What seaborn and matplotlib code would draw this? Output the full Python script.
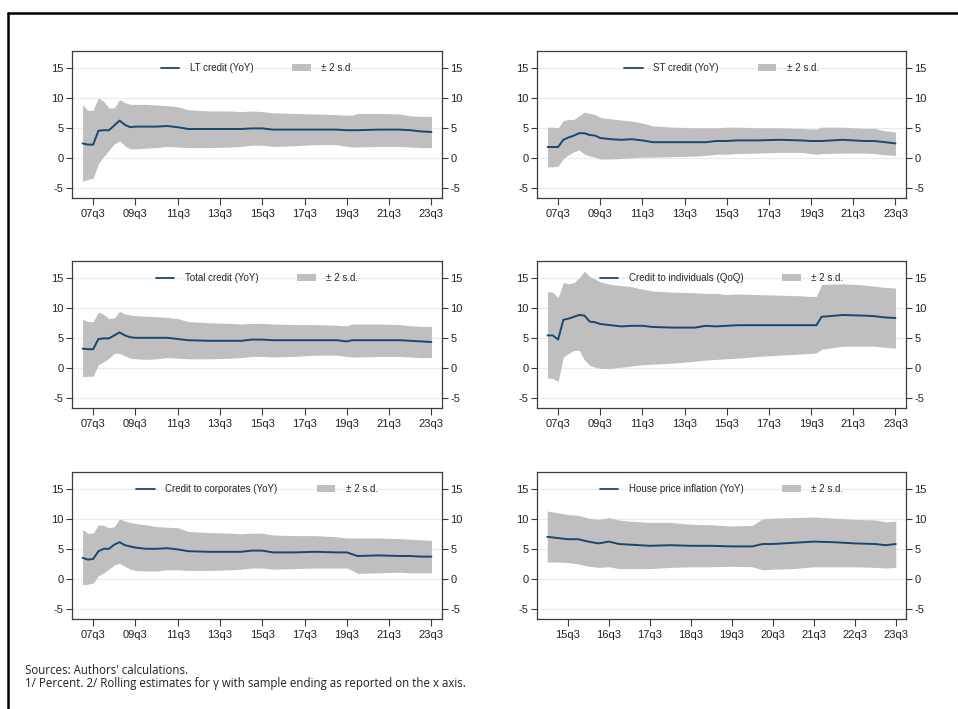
import numpy as np
import pandas as pd
import matplotlib
matplotlib.use("Agg")
import matplotlib.pyplot as plt
import seaborn as sns
from matplotlib.lines import Line2D

# ---------------- data ----------------
quarters = ["07q1", "07q2", "07q3", "07q4", "08q1", "08q2", "08q3", "08q4",
            "09q1", "09q2", "09q3", "10q1", "10q3", "11q1", "11q3", "12q1",
            "13q1", "14q1", "14q3", "15q1", "15q3", "16q1", "17q1", "18q1",
            "19q1", "19q3", "19q4", "20q1", "21q1", "22q1", "22q3", "23q1", "23q3"]

lt_mid = [2.4, 2.2, 2.2, 4.5, 4.6, 4.6, 5.4, 6.2, 5.5, 5.1, 5.2, 5.2, 5.2, 5.3, 5.1, 4.8, 4.8,
          4.8, 4.8, 4.9, 4.9, 4.7, 4.7, 4.7, 4.7, 4.6, 4.6, 4.6, 4.7, 4.7, 4.6, 4.4, 4.3]
lt_up = [8.8, 7.9, 7.9, 10.0, 9.4, 8.3, 8.3, 9.7, 9.2, 8.9, 8.9, 8.9, 8.8, 8.7, 8.5, 8.0, 7.8,
         7.8, 7.7, 7.8, 7.7, 7.5, 7.4, 7.3, 7.2, 7.1, 7.1, 7.4, 7.4, 7.3, 7.0, 6.9, 6.9]
lt_lo = [-3.9, -3.6, -3.4, -1.0, 0.2, 1.3, 2.3, 2.8, 2.0, 1.5, 1.5, 1.6, 1.7, 1.9, 1.8, 1.7, 1.7,
         1.8, 1.9, 2.1, 2.1, 1.9, 2.0, 2.2, 2.2, 1.9, 1.8, 1.8, 1.9, 1.9, 1.8, 1.7, 1.7]

st_mid = [1.8, 1.8, 1.8, 3.0, 3.4, 3.7, 4.1, 4.1, 3.8, 3.7, 3.3, 3.1, 3.0, 3.1, 2.9, 2.6, 2.6,
          2.6, 2.6, 2.8, 2.8, 2.9, 2.9, 3.0, 2.9, 2.8, 2.8, 2.8, 3.0, 2.8, 2.8, 2.6, 2.4]
st_up = [5.1, 5.1, 5.0, 6.2, 6.4, 6.4, 7.0, 7.6, 7.4, 7.2, 6.7, 6.5, 6.3, 6.1, 5.8, 5.3, 5.1,
         5.0, 5.0, 5.0, 5.1, 5.1, 5.0, 5.0, 4.9, 4.8, 4.8, 5.1, 5.1, 4.9, 4.9, 4.5, 4.3]
st_lo = [-1.5, -1.5, -1.4, -0.1, 0.5, 1.0, 1.3, 0.6, 0.3, 0.1, -0.2, -0.2, -0.1, 0.0, 0.1, 0.1, 0.2,
         0.3, 0.4, 0.6, 0.6, 0.7, 0.8, 0.9, 0.9, 0.7, 0.6, 0.7, 0.8, 0.8, 0.7, 0.5, 0.4]

tot_mid = [3.2, 3.1, 3.1, 4.8, 4.9, 4.9, 5.4, 5.9, 5.4, 5.1, 5.0, 5.0, 5.0, 5.0, 4.8, 4.6, 4.5,
           4.5, 4.5, 4.7, 4.7, 4.6, 4.6, 4.6, 4.6, 4.4, 4.6, 4.6, 4.6, 4.6, 4.5, 4.4, 4.3]
tot_up = [8.1, 7.7, 7.7, 9.3, 8.9, 8.2, 8.3, 9.4, 9.0, 8.8, 8.7, 8.6, 8.5, 8.4, 8.2, 7.7, 7.5,
          7.4, 7.3, 7.4, 7.4, 7.3, 7.2, 7.2, 7.1, 7.0, 7.3, 7.3, 7.3, 7.2, 7.0, 6.9, 6.9]
tot_lo = [-1.5, -1.4, -1.4, 0.5, 1.0, 1.6, 2.4, 2.4, 2.0, 1.6, 1.5, 1.4, 1.5, 1.7, 1.6, 1.5, 1.5,
          1.6, 1.7, 1.9, 1.9, 1.8, 1.9, 2.1, 2.1, 1.9, 1.8, 1.8, 1.9, 1.9, 1.8, 1.7, 1.7]

ind_mid = [5.4, 5.4, 4.7, 8.0, 8.2, 8.5, 8.8, 8.7, 7.7, 7.6, 7.3, 7.1, 6.9, 7.0, 7.0, 6.8, 6.7,
           6.7, 7.0, 6.9, 7.0, 7.1, 7.1, 7.1, 7.1, 7.1, 7.1, 8.5, 8.8, 8.7, 8.6, 8.4, 8.3]
ind_up = [12.7, 12.6, 11.7, 14.2, 14.0, 14.2, 15.0, 16.1, 15.2, 14.8, 14.3, 13.9, 13.7, 13.5, 13.1,
          12.8, 12.6, 12.5, 12.4, 12.4, 12.2, 12.3, 12.2, 12.1, 12.0, 11.9, 11.9, 13.9, 14.0, 13.8,
          13.6, 13.4, 13.3]
ind_lo = [-1.7, -1.8, -2.3, 1.8, 2.4, 2.9, 2.9, 1.3, 0.4, 0.1, -0.1, -0.1, 0.1, 0.3, 0.5, 0.6, 0.8,
          1.1, 1.3, 1.4, 1.5, 1.6, 1.9, 2.1, 2.3, 2.4, 2.5, 3.1, 3.6, 3.6, 3.6, 3.4, 3.3]

corp_mid = [3.5, 3.2, 3.3, 4.6, 5.0, 5.0, 5.7, 6.1, 5.6, 5.4, 5.2, 5.0, 5.0, 5.1, 4.9, 4.6, 4.5,
            4.5, 4.5, 4.7, 4.7, 4.4, 4.4, 4.5, 4.4, 4.4, 4.1, 3.8, 3.9, 3.8, 3.8, 3.7, 3.7]
corp_up = [8.2, 7.6, 7.6, 9.0, 8.9, 8.5, 8.7, 10.0, 9.6, 9.4, 9.2, 9.0, 8.7, 8.6, 8.5, 7.9, 7.7,
           7.6, 7.5, 7.6, 7.6, 7.3, 7.2, 7.2, 7.0, 6.8, 6.8, 6.8, 6.8, 6.7, 6.6, 6.5, 6.4]
corp_lo = [-1.0, -0.9, -0.7, 0.5, 1.0, 1.6, 2.3, 2.6, 2.1, 1.6, 1.4, 1.3, 1.3, 1.5, 1.5, 1.4, 1.4,
           1.5, 1.6, 1.8, 1.8, 1.6, 1.7, 1.8, 1.8, 1.8, 1.4, 0.9, 1.0, 1.1, 1.0, 1.0, 1.0]

hp_quarters = ["15q1", "15q2", "15q3", "15q4", "16q1", "16q2", "16q3", "16q4", "17q1", "17q3",
               "18q1", "18q3", "19q1", "19q3", "20q1", "20q2", "20q3", "21q1", "21q3", "22q1",
               "22q3", "23q1", "23q2", "23q3"]
hp_mid = [7.0, 6.8, 6.6, 6.6, 6.2, 5.9, 6.2, 5.8, 5.7, 5.5, 5.6, 5.5, 5.5, 5.4, 5.4, 5.8, 5.8,
          6.0, 6.2, 6.1, 5.9, 5.8, 5.6, 5.8]
hp_up = [11.3, 11.0, 10.7, 10.6, 10.1, 9.9, 10.2, 9.8, 9.6, 9.4, 9.4, 9.1, 9.0, 8.8, 8.9, 10.0,
         10.1, 10.2, 10.3, 10.1, 9.9, 9.8, 9.5, 9.6]
hp_lo = [2.8, 2.8, 2.7, 2.5, 2.1, 1.9, 2.0, 1.7, 1.7, 1.7, 1.9, 2.0, 2.0, 2.1, 2.0, 1.5, 1.6,
         1.7, 2.0, 2.0, 2.0, 1.9, 1.8, 1.9]

long_ticks = ["07q3", "09q3", "11q3", "13q3", "15q3", "17q3", "19q3", "21q3", "23q3"]
hp_ticks = ["15q3", "16q3", "17q3", "18q3", "19q3", "20q3", "21q3", "22q3", "23q3"]
y_ticks = [-5, 0, 5, 10, 15]


def qnum(q):
    return 2000 + int(q[:2]) + (int(q[3]) - 1) / 4


panels = [
    ("LT credit (YoY)", quarters, lt_mid, lt_up, lt_lo, long_ticks, (2006.5, 2024.0)),
    ("ST credit (YoY)", quarters, st_mid, st_up, st_lo, long_ticks, (2006.5, 2024.0)),
    ("Total credit (YoY)", quarters, tot_mid, tot_up, tot_lo, long_ticks, (2006.5, 2024.0)),
    ("Credit to individuals (QoQ)", quarters, ind_mid, ind_up, ind_lo, long_ticks, (2006.5, 2024.0)),
    ("Credit to corporates (YoY)", quarters, corp_mid, corp_up, corp_lo, long_ticks, (2006.5, 2024.0)),
    ("House price inflation (YoY)", hp_quarters, hp_mid, hp_up, hp_lo, hp_ticks, (2014.75, 2023.75)),
]

# ---------------- style ----------------
sns.set_theme(style="white")
plt.rcParams["font.family"] = ["Liberation Sans", "DejaVu Sans"]
plt.rcParams["axes.unicode_minus"] = False

LINE = "#1a476f"
BAND = "#bfbfbf"
SPINE = "#3c3c3c"

fig = plt.figure(figsize=(9.58, 7.09), dpi=100)

lefts = [72 / 958, 537 / 958]
widths = [370 / 958, 369 / 958]
bottoms = [1 - 198 / 709, 1 - 408 / 709, 1 - 619 / 709]
height = 147 / 709

for i, (name, qs, mid, up, lo, ticks, xl) in enumerate(panels):
    r, c = divmod(i, 2)
    ax = fig.add_axes([lefts[c], bottoms[r], widths[c], height])
    df = pd.DataFrame({"t": [qnum(q) for q in qs], "mid": mid, "up": up, "lo": lo})

    for yv in y_ticks:
        ax.axhline(yv, color="#e4eef0", lw=0.9, zorder=0)
    band = ax.fill_between(df["t"], df["lo"], df["up"], color=BAND, lw=0, zorder=1)
    sns.lineplot(data=df, x="t", y="mid", ax=ax, color=LINE, lw=1.4, zorder=2)

    ax.set_xlim(*xl)
    ax.set_ylim(-6.7, 17.8)
    ax.set_xticks([qnum(t) for t in ticks])
    ax.set_xticklabels(ticks)
    ax.set_yticks(y_ticks)
    ax.set_xlabel("")
    ax.set_ylabel("")
    ax.tick_params(axis="both", which="both", direction="out", length=4, width=0.8,
                   color=SPINE, labelsize=8, labelcolor="#222222", pad=2)
    ax.tick_params(axis="y", left=True, right=True, labelleft=True, labelright=True)
    ax.tick_params(axis="x", bottom=True, length=5, pad=3)
    for s in ax.spines.values():
        s.set_color(SPINE)
        s.set_linewidth(0.9)

    handles = [Line2D([0], [0], color=LINE, lw=1.3), band]
    ax.legend(handles, [name, "\u00b1 2 s.d."], loc="center", bbox_to_anchor=(0.5, 0.884),
              ncol=2, frameon=False, fontsize=7, handlelength=1.9, handletextpad=1.1,
              columnspacing=4.0, borderaxespad=0)

# outer frame (top and left edges)
fig.add_artist(Line2D([7.5 / 958, 1.0], [1 - 12.5 / 709, 1 - 12.5 / 709], color="black", lw=1.8))
fig.add_artist(Line2D([7.5 / 958, 7.5 / 958], [0.0, 1 - 12.5 / 709], color="black", lw=1.8))

fig.text(25 / 958, 1 - 670 / 709, "Sources: Authors' calculations.", fontsize=8.3,
         family=["Open Sans", "DejaVu Sans"], va="center", color="#222222")
fig.text(25 / 958, 1 - 684 / 709,
         "1/ Percent. 2/ Rolling estimates for \u03b3 with sample ending as reported on the x axis.",
         fontsize=8.3, family=["Open Sans", "DejaVu Sans"], va="center", color="#222222")

fig.savefig("out.png", dpi=100)
